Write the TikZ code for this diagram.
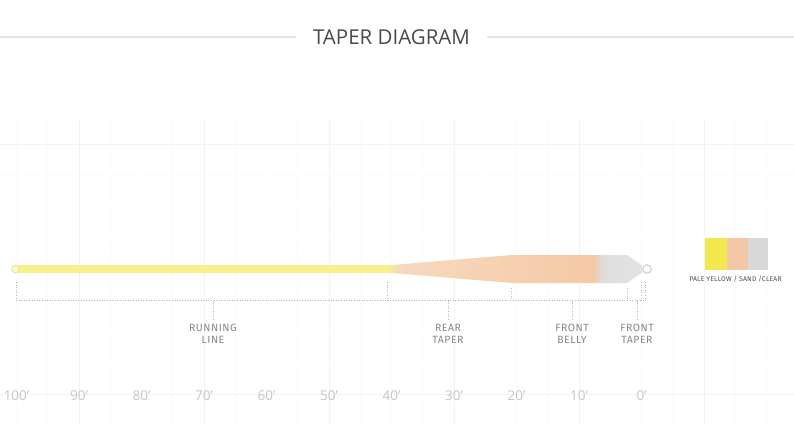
\documentclass[tikz,border=0pt]{standalone}
\usepackage{fontspec}
\setmainfont{Open Sans}
\newfontfamily\labelfont{Fira Sans}[LetterSpace=5]
\newfontfamily\legfont{Fira Sans}[LetterSpace=3]
\definecolor{lineyellow}{HTML}{F7F18A}
\definecolor{sandlight}{HTML}{F7D9C0}
\definecolor{sandmid}{HTML}{F6D0B0}
\definecolor{sanddark}{HTML}{F4C9A6}
\definecolor{clearc}{HTML}{DEDEDE}
\definecolor{clearlight}{HTML}{E3E3E3}
\definecolor{gridmajor}{HTML}{F3F3F3}
\definecolor{gridminor}{HTML}{FBFBFB}
\definecolor{rulegray}{HTML}{E6E6E6}
\definecolor{titlegray}{HTML}{4A4A4A}
\definecolor{axisgray}{HTML}{C6C6C6}
\definecolor{labgray}{HTML}{888888}
\definecolor{dotgray}{HTML}{B8B8B8}
\definecolor{loopgray}{HTML}{D2D2D2}
\definecolor{legyellow}{HTML}{F2E84F}
\definecolor{legsand}{HTML}{F2C8A6}
\definecolor{legclear}{HTML}{D8D8D8}
\definecolor{legtext}{HTML}{4D4D4D}
\pgfdeclarehorizontalshading{headshade}{100bp}{color(0bp)=(lineyellow); color(25bp)=(lineyellow); color(27bp)=(sandlight); color(49.4bp)=(sandmid); color(65.4bp)=(sanddark); color(67.2bp)=(clearc); color(75bp)=(clearlight); color(100bp)=(clearlight)}
\tikzset{
  minorgrid/.style={draw=gridminor, line width=0.8pt},
  majorgrid/.style={draw=gridmajor, line width=1pt},
  titlerule/.style={draw=rulegray, line width=2pt},
  titletext/.style={font=\fontsize{20.5}{24}\selectfont, text=titlegray, inner xsep=17pt, inner ysep=0pt},
  axislabel/.style={font=\fontsize{13.5}{15}\selectfont, text=axisgray, inner sep=0pt},
  dotln/.style={draw=dotgray, line width=0.9pt, dash pattern=on 0.9pt off 1.7pt},
  seglabel/.style={font=\labelfont\fontsize{10.5}{12}\selectfont, text=labgray, align=center, inner sep=0pt, anchor=north},
  legtextstyle/.style={font=\legfont\fontsize{6.8}{7}\selectfont, text=legtext, inner sep=0pt}
}
\begin{document}
\begin{tikzpicture}[x=1pt,y=-1pt]
\useasboundingbox (0,0) rectangle (794,424);
\fill[white] (0,0) rectangle (794,424);
% faint grid
\foreach \i in {0,...,24} \draw[minorgrid] ({16.5+31.25*\i},120) -- ({16.5+31.25*\i},424);
\foreach \j in {0,...,8} \draw[minorgrid] (0,{144+31.25*\j}) -- (794,{144+31.25*\j});
\foreach \k in {0,...,5} \draw[majorgrid] ({79+125*\k},120) -- ({79+125*\k},424);
\draw[majorgrid] (0,144) -- (794,144);
\draw[majorgrid] (0,394) -- (794,394);
% title
\node[titletext] (title) at (391.5,37) {TAPER DIAGRAM};
\coordinate (tl) at (0,37);
\coordinate (tr) at (794,37);
\draw[titlerule] (tl) -- (title.west);
\draw[titlerule] (title.east) -- (tr);
% fly line
\coordinate (ls) at (17,269);
\coordinate (le) at (392,269);
\draw[lineyellow, line width=7.5pt] (ls) -- (le);
\shade[shading=headshade] (388,265.3) -- (512,255) -- (627,255) -- (642,265.3) -- (642,272.7) -- (627,283) -- (512,283) -- (388,272.7) -- cycle;
\node[circle, draw=lineyellow!90!gray, fill=lineyellow!50!white, line width=0.8pt, minimum size=7.5pt, inner sep=0pt] (lloop) at (15.5,269) {};
\node[circle, draw=loopgray, fill=white, line width=1.2pt, minimum size=8.5pt, inner sep=0pt] (floop) at (647,269) {};
% dotted bracket
\coordinate (h0) at (16,300.5);
\coordinate (h1) at (646,300.5);
\draw[dotln] (h0) -- (h1);
\foreach \x/\t in {16/282, 387/282, 511/288, 627/288, 641/282, 645/282}
  \draw[dotln] (\x,\t) -- (\x,300.5);
% segment labels
\node[seglabel] (rl) at (213,324) {RUNNING\\LINE};
\node[seglabel] (rtp) at (448,324) {REAR\\TAPER};
\node[seglabel] (fb) at (572,324) {FRONT\\BELLY};
\node[seglabel] (ftp) at (637,324) {FRONT\\TAPER};
\coordinate (b1) at (213,300.5);
\coordinate (b2) at (448,300.5);
\coordinate (b3) at (572,300.5);
\coordinate (b4) at (637,300.5);
\draw[dotln] (b1) -- ([yshift=4pt]rl.north);
\draw[dotln] (b2) -- ([yshift=4pt]rtp.north);
\draw[dotln] (b3) -- ([yshift=4pt]fb.north);
\draw[dotln] (b4) -- ([yshift=4pt]ftp.north);
% axis labels
\foreach \v [count=\n from 0] in {100,90,80,70,60,50,40,30,20,10,0}
  \node[axislabel] (ax\n) at ({16.5+62.5*\n},396) {\v'};
% legend
\fill[legyellow] (705,238) rectangle (727,269.5);
\fill[legsand] (727,238) rectangle (748,269.5);
\fill[legclear] (748,238) rectangle (768,269.5);
\node[legtextstyle] (leg) at (735.5,279) {PALE YELLOW / SAND /CLEAR};
\end{tikzpicture}
\end{document}
